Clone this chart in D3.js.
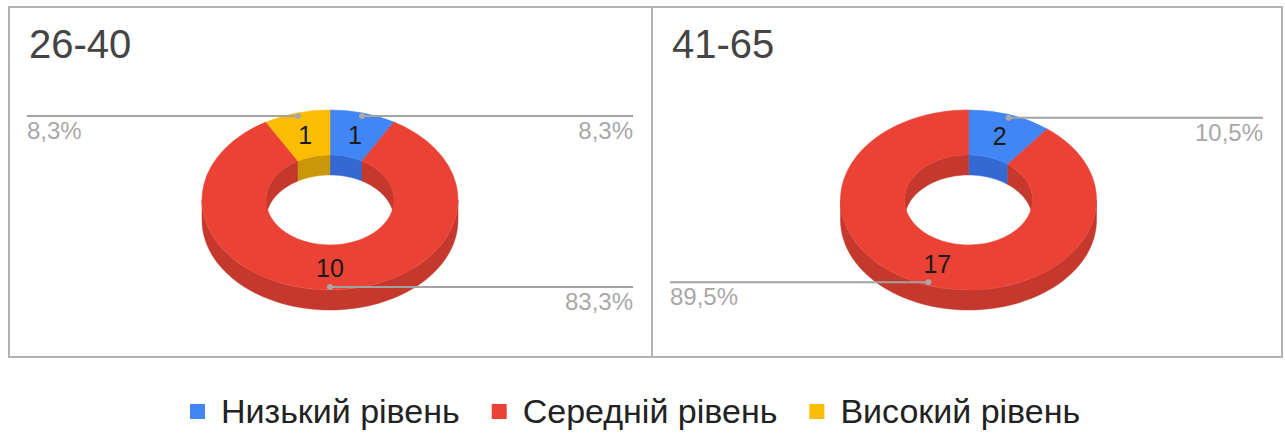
<!DOCTYPE html>
<html>
<head>
<meta charset="utf-8">
<script src="https://cdn.jsdelivr.net/npm/d3@7"></script>
<style>
  body { margin: 0; background: #fff; }
  svg { display: block; font-family: "Liberation Sans", Arial, sans-serif; }
</style>
</head>
<body>
<svg id="chart" width="1285" height="443"></svg>
<script>
// Levels shown in each donut, in drawing order (clockwise from 12 o'clock)
const categories = ["Низький рівень", "Середній рівень", "Високий рівень"];
const groupTitles = ["26-40", "41-65"];
const values2640 = [1, 10, 1];
const values4165 = [2, 17, 0];
const faceColors = ["#4285F4", "#EA4335", "#FBBC04"];
const wallColors = ["#3468D2", "#C5382D", "#C99708"];

const svg = d3.select("#chart");

// Panel frames and donut geometry
const panels = [
  { title: groupTitles[0], values: values2640, x0: 9,   x1: 652,  cx: 330 },
  { title: groupTitles[1], values: values4165, x0: 652, x1: 1282, cx: 968.5 }
];
const top0 = 7, bottom0 = 357;
const cy = 200, rOuter = 128, rInner = 64, tilt = 90 / 128, depth = 20;
const rLabel = (rOuter + rInner) / 2, rAnchor = rOuter * 0.966;

const pie = d3.pie().sort(null).value(d => d);
const faceArc = d3.arc().innerRadius(rInner).outerRadius(rOuter);
const line = d3.line();
const pctFmt = v => d3.format(".1f")(v).replace(".", ",") + "%";

// frames
panels.forEach(p => {
  svg.append("rect")
    .attr("x", p.x0).attr("y", top0)
    .attr("width", p.x1 - p.x0).attr("height", bottom0 - top0)
    .attr("fill", "none").attr("stroke", "#b3b3b3").attr("stroke-width", 2);
});

panels.forEach(p => {
  const g = svg.append("g");
  const total = d3.sum(p.values);
  const arcs = pie(p.values).map((a, i) => ({ ...a, i }));
  const pt = (ang, r, dy = 0) => [p.cx + r * Math.sin(ang), cy - r * tilt * Math.cos(ang) + dy];

  // band between an elliptical edge and the same edge pushed down by the depth
  const wallPath = (b0, b1, r) => {
    const n = 64;
    const topEdge = d3.range(n + 1).map(k => pt(b0 + (b1 - b0) * k / n, r));
    const lowEdge = d3.range(n + 1).map(k => pt(b1 - (b1 - b0) * k / n, r, depth));
    return line(topEdge.concat(lowEdge)) + "Z";
  };

  // title
  g.append("text")
    .attr("x", p.x0 + 20).attr("y", 58)
    .attr("font-size", 40).attr("fill", "#444")
    .text(p.title);

  // back inner walls seen through the hole
  const backRanges = [[0, Math.PI / 2], [3 * Math.PI / 2, 2 * Math.PI]];
  arcs.forEach(a => {
    backRanges.forEach(([lo, hi]) => {
      const b0 = Math.max(a.startAngle, lo), b1 = Math.min(a.endAngle, hi);
      if (b1 > b0) {
        g.append("path").attr("d", wallPath(b0, b1, rInner))
          .attr("fill", wallColors[a.i]).attr("stroke", wallColors[a.i]).attr("stroke-width", 0.5);
      }
    });
  });

  // front outer walls
  arcs.forEach(a => {
    const b0 = Math.max(a.startAngle, Math.PI / 2), b1 = Math.min(a.endAngle, 3 * Math.PI / 2);
    if (b1 > b0) {
      g.append("path").attr("d", wallPath(b0, b1, rOuter))
        .attr("fill", wallColors[a.i]).attr("stroke", wallColors[a.i]).attr("stroke-width", 0.5);
    }
  });

  // top faces
  const face = g.append("g").attr("transform", `translate(${p.cx},${cy}) scale(1,${tilt})`);
  face.selectAll("path").data(arcs.filter(a => a.value > 0)).join("path")
    .attr("d", faceArc)
    .attr("fill", a => faceColors[a.i])
    .attr("stroke", a => faceColors[a.i])
    .attr("stroke-width", 0.6)
    .attr("vector-effect", "non-scaling-stroke");

  // values on the slices
  arcs.filter(a => a.value > 0).forEach(a => {
    const mid = (a.startAngle + a.endAngle) / 2;
    const [x, y] = pt(mid, rLabel);
    g.append("text")
      .attr("x", x).attr("y", y + 9)
      .attr("text-anchor", "middle")
      .attr("font-size", 25).attr("fill", "#1a1a1a")
      .text(a.value);
  });

  // leader lines with percentage labels
  arcs.filter(a => a.value > 0).forEach(a => {
    const mid = (a.startAngle + a.endAngle) / 2;
    const [x, y] = pt(mid, rAnchor);
    const leftSide = x < p.cx - 0.5;
    const xEnd = leftSide ? p.x0 + 18 : p.x1 - 19;
    g.append("line")
      .attr("x1", x).attr("y1", y).attr("x2", xEnd).attr("y2", y)
      .attr("stroke", "#a3a3a3").attr("stroke-width", 2);
    g.append("circle")
      .attr("cx", x).attr("cy", y).attr("r", 3)
      .attr("fill", "#a8a8a8");
    g.append("text")
      .attr("x", xEnd).attr("y", y + 23)
      .attr("text-anchor", leftSide ? "start" : "end")
      .attr("font-size", 24).attr("fill", "#a8a8a8")
      .text(pctFmt(a.value / total * 100));
  });
});

// legend
const legend = svg.append("g");
let lx = 190;
categories.forEach((c, i) => {
  legend.append("rect")
    .attr("x", lx).attr("y", 404).attr("width", 15).attr("height", 15)
    .attr("fill", faceColors[i]);
  const t = legend.append("text")
    .attr("x", lx + 31).attr("y", 423)
    .attr("font-size", 34).attr("fill", "#222")
    .text(c);
  lx += 31 + t.node().getComputedTextLength() + 32;
});
</script>
</body>
</html>
